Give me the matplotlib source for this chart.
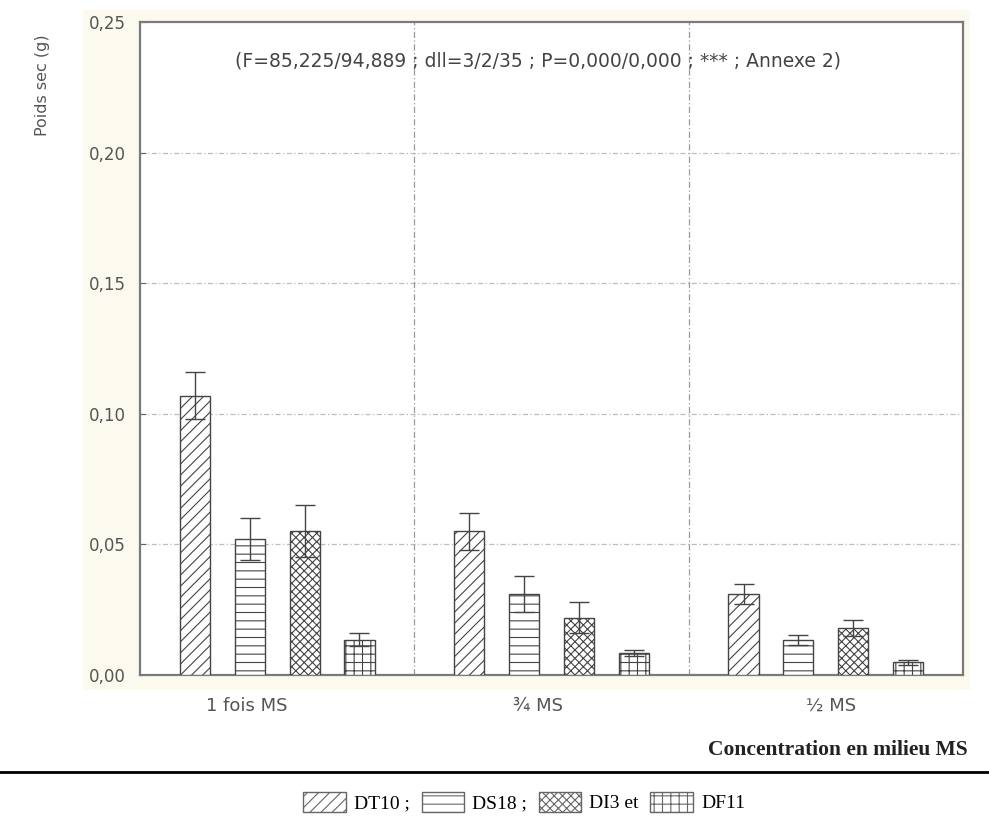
import matplotlib.pyplot as plt
import matplotlib.transforms as mtransforms
import numpy as np
from matplotlib.patches import Rectangle, Patch
from matplotlib.lines import Line2D
from matplotlib.ticker import FuncFormatter

# dry weight (g) per MS concentration and variety
concentrations = ["1 fois MS", "¾ MS", "½ MS"]
varieties = ["DT10", "DS18", "DI3", "DF11"]
poids_dt10 = [0.107, 0.055, 0.031]
poids_ds18 = [0.052, 0.031, 0.0135]
poids_di3 = [0.055, 0.022, 0.018]
poids_df11 = [0.0135, 0.0085, 0.0048]
err_dt10 = [0.009, 0.007, 0.004]
err_ds18 = [0.008, 0.007, 0.002]
err_di3 = [0.010, 0.006, 0.003]
err_df11 = [0.0025, 0.0012, 0.001]
legend_labels = ["DT10 ;", "DS18 ;", "DI3 et", "DF11"]

means = [poids_dt10, poids_ds18, poids_di3, poids_df11]
errs = [err_dt10, err_ds18, err_di3, err_df11]
hatches = ["///", "--", "xxxx", "++"]

plt.rcParams['hatch.color'] = '#444444'
plt.rcParams['hatch.linewidth'] = 0.8

fig = plt.figure(figsize=(9.89, 8.25), dpi=100)

# beige panel behind the plot area
fig.patches.append(Rectangle((83 / 989, 1 - 690 / 825), (970 - 83) / 989, (690 - 10) / 825,
                             transform=fig.transFigure, facecolor='#fcf9ee', edgecolor='none', zorder=-1))

ax = fig.add_axes([140 / 989, 1 - 675 / 825, 823 / 989, 653 / 825])
ax.set_zorder(2)
ax.set_facecolor('white')

x = np.arange(len(concentrations))
width = 0.11
offsets = [-0.3, -0.1, 0.1, 0.3]
for i in range(len(varieties)):
    ax.bar(x + offsets[i], means[i], width, color='white', edgecolor='#444444',
           hatch=hatches[i], linewidth=1.0, zorder=3)
    ax.errorbar(x + offsets[i], means[i], yerr=errs[i], fmt='none', ecolor='#444444',
                elinewidth=1.0, capsize=7.5, capthick=1.0, zorder=4)

ax.set_xlim(-0.5, 2.5)
ax.set_ylim(0, 0.25)
ax.set_yticks(np.arange(0, 0.251, 0.05))
ax.yaxis.set_major_formatter(FuncFormatter(lambda v, p: f"{v:.2f}".replace('.', ',')))
ax.set_xticks([])
ax.tick_params(axis='y', direction='in', length=4, color='#666666', pad=10,
               labelsize=12, labelcolor='#555555')

# category labels under each group (the first one sits a bit left)
label_shift = [-0.11, -0.05, 0.02]
xform = mtransforms.blended_transform_factory(ax.transData, fig.transFigure)
for xi, name, dx in zip(x, concentrations, label_shift):
    ax.text(xi + dx, 1 - 706 / 825, name, transform=xform, ha='center', va='center',
            fontsize=13, color='#555555', clip_on=False)

# gridlines
for yv in np.arange(0.05, 0.25, 0.05):
    ax.axhline(yv, color='#bdbdbd', lw=0.9, ls=(0, (4, 2, 1, 2)), zorder=1)
for xv in [0.5, 1.5]:
    ax.axvline(xv, color='#9a9a9a', lw=0.9, ls=(0, (5, 2, 1, 2)), zorder=1)

for s in ax.spines.values():
    s.set_color('#7a7a7a')
    s.set_linewidth(1.6)

ax.text(0.484, 0.94, "(F=85,225/94,889 ; dll=3/2/35 ; P=0,000/0,000 ; *** ; Annexe 2)",
        transform=ax.transAxes, ha='center', va='center', fontsize=13.5,
        color='#444444', family='DejaVu Sans')

fig.text(42 / 989, 1 - 85 / 825, "Poids sec (g)", rotation=90, ha='center', va='center',
         fontsize=11.5, color='#555555')
fig.text(968 / 989, 1 - 750 / 825, "Concentration en milieu MS", ha='right', va='center',
         fontsize=15.5, fontweight='bold', family='Liberation Serif', color='#222222')

# separator line
fig.lines.append(Line2D([0, 1], [1 - 772 / 825] * 2, transform=fig.transFigure,
                        color='black', lw=2))

handles = [Patch(facecolor='white', edgecolor='#666666', hatch=h) for h in hatches]
fig.legend(handles, legend_labels, loc='center', bbox_to_anchor=(0.53, 1 - 802 / 825),
           ncol=4, frameon=False, handlelength=2.2, handleheight=1.2, handletextpad=0.4,
           columnspacing=0.6, prop={'family': 'Liberation Serif', 'size': 14})

fig.savefig("out.png", dpi=100)
